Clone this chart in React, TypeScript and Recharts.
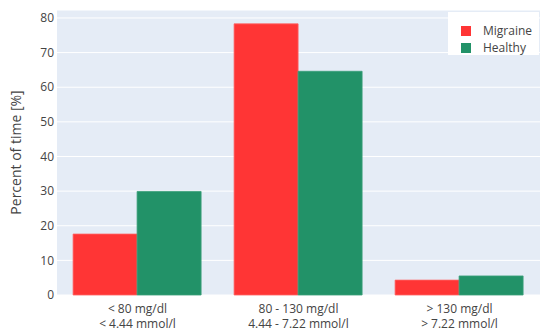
import React from 'react';
import { BarChart, Bar, XAxis, YAxis, CartesianGrid, Legend } from 'recharts';

const categories = ['< 80 mg/dl|< 4.44 mmol/l', '80 - 130 mg/dl|4.44 - 7.22 mmol/l', '> 130 mg/dl|> 7.22 mmol/l'];
const migraine = [17.6, 78.3, 4.3];
const healthy = [29.9, 64.6, 5.5];
const yTicks = [0, 10, 20, 30, 40, 50, 60, 70, 80];

const data = categories.map((c, i) => ({ name: c, Migraine: migraine[i], Healthy: healthy[i] }));

const FONT = '"Open Sans", sans-serif';
const RED = '#FF3535';
const GREEN = '#229268';

const XTick = (props: any) => {
  const { x, y, payload } = props;
  const lines = String(payload.value).split('|');
  return (
    <g>
      <text x={x} y={y + 10} textAnchor="middle" fill="#444" fontSize={12} fontFamily={FONT}>{lines[0]}</text>
      <text x={x} y={y + 25} textAnchor="middle" fill="#444" fontSize={12} fontFamily={FONT}>{lines[1]}</text>
    </g>
  );
};

const YLabel = (props: any) => {
  const vb = props.viewBox || {};
  const cy = vb.y + vb.height / 2;
  return (
    <text x={15} y={cy} transform={`rotate(-90, 15, ${cy})`} textAnchor="middle" dominantBaseline="central" fill="#444" fontSize={14} fontFamily={FONT}>
      Percent of time [%]
    </text>
  );
};

const LegendContent = () => (
  <div style={{ background: '#fff', width: 91, height: 43, boxSizing: 'border-box', padding: '10px 0 0 13px', fontFamily: FONT, fontSize: 12, color: '#444' }}>
    {[['Migraine', RED], ['Healthy', GREEN]].map(([n, c]) => (
      <div key={n} style={{ display: 'flex', alignItems: 'center', height: 17 }}>
        <div style={{ width: 10, height: 10, background: c, marginRight: 12 }} />
        <span style={{ lineHeight: '12px' }}>{n}</span>
      </div>
    ))}
  </div>
);

export default function App() {
  return (
    <div style={{ position: 'absolute', left: 0, top: 0, width: 550, height: 331, background: '#fff' }}>
      <BarChart width={550} height={331} data={data} margin={{ top: 10, right: 10, bottom: 0, left: 0 }} barCategoryGap="10%" barGap={0}>
        <CartesianGrid vertical={false} stroke="#fff" strokeWidth={1} fill="#E5ECF6" />
        <XAxis dataKey="name" height={36} tick={<XTick />} tickLine={false} axisLine={false} interval={0} />
        <YAxis
          width={57}
          domain={[0, 82.3]}
          ticks={yTicks}
          tickSize={0}
          tickMargin={3}
          tickLine={false}
          axisLine={false}
          tick={{ fill: '#444', fontSize: 12, fontFamily: FONT }}
          label={<YLabel />}
        />
        <Legend layout="horizontal" verticalAlign="middle" align="center" content={<LegendContent />} wrapperStyle={{ position: 'absolute', left: 448, top: 12, width: 91, height: 43 }} />
        <Bar dataKey="Migraine" fill={RED} stroke="#ff6262" strokeWidth={0.8} isAnimationActive={false} />
        <Bar dataKey="Healthy" fill={GREEN} stroke="#3aa07a" strokeWidth={0.8} isAnimationActive={false} />
      </BarChart>
    </div>
  );
}
